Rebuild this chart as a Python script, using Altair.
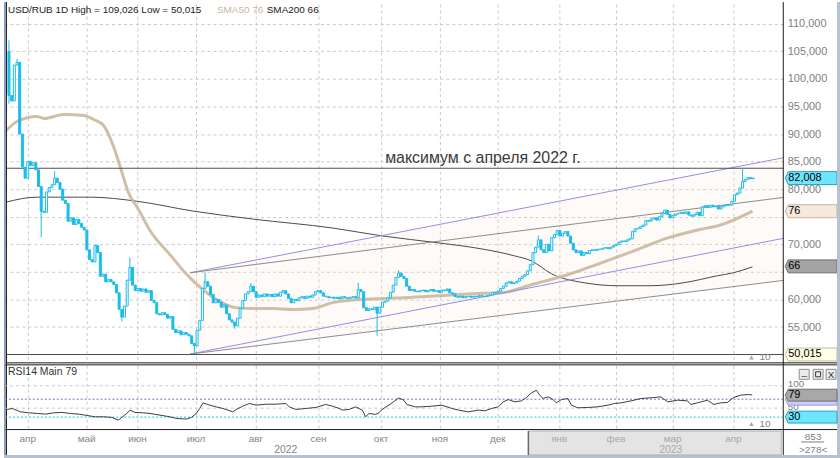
import altair as alt
import pandas as pd

FONT = "Liberation Sans"
CYAN = "#1BBCEA"
GRID = "#C9C9C9"
LABEL_GRAY = "#7F7F7F"
DARK = "#1A1A1A"

# ---------------- data ----------------
title_main = "USD/RUB 1D High = 109,026 Low = 50,015"
title_sma50 = "SMA50 76"
title_sma200 = "SMA200 66"
note_text = "максимум с апреля 2022 г."
note_bar = 140.0
note_price = 85.6

first_open = 105.0
closes = [
    97.0, 96.0, 102.5, 103.0, 90.0, 84.0, 82.0, 85.0, 84.3, 84.8,
    83.5, 80.5, 76.0, 75.8, 79.5, 80.3, 80.8, 82.0, 81.2, 80.0,
    78.0, 77.4, 74.2, 74.8, 73.6, 74.5, 73.8, 73.1, 72.6, 69.0,
    67.2, 66.8, 69.8, 68.5, 64.2, 64.6, 63.2, 63.6, 63.2, 62.7,
    61.2, 58.2, 56.8, 58.8, 63.5, 65.8, 62.6, 61.6, 62.0, 61.5,
    61.9, 61.3, 61.6, 59.8, 59.4, 57.4, 57.2, 57.6, 57.3, 56.6,
    56.9, 54.6, 54.0, 54.3, 53.6, 54.0, 53.7, 53.4, 52.0, 51.6,
    54.4, 56.2, 62.0, 63.2, 62.4, 60.9, 59.4, 60.0, 59.5, 58.6,
    59.0, 57.4, 56.3, 55.9, 55.2, 56.6, 58.4, 59.8, 61.0, 61.4,
    62.4, 61.4, 60.4, 60.8, 60.5, 61.0, 60.6, 60.9, 60.5, 61.0,
    60.6, 61.3, 61.6, 61.0, 60.2, 59.4, 60.0, 59.8, 60.3, 60.5,
    60.2, 60.6, 60.4, 60.8, 61.4, 61.6, 61.2, 60.6, 60.5, 60.3,
    60.4, 60.2, 60.4, 60.1, 60.5, 60.3, 60.2, 60.4, 60.5, 60.3,
    61.8, 61.4, 58.5, 58.0, 58.3, 58.2, 58.6, 57.5, 58.6, 59.5,
    59.7, 60.3, 61.3, 62.6, 64.0, 64.8, 64.2, 63.8, 62.4, 61.6,
    61.8, 61.5, 61.4, 61.6, 61.7, 61.4, 61.6, 61.8, 61.5, 61.6,
    61.3, 61.7, 61.6, 61.9, 61.2, 61.0, 60.5, 60.4, 60.6, 60.3,
    60.5, 60.6, 60.4, 60.6, 60.5, 60.7, 60.6, 60.5, 60.7, 60.8,
    61.3, 61.2, 61.5, 62.0, 62.4, 63.0, 63.2, 62.9, 63.0, 63.3,
    63.8, 64.2, 64.5, 65.2, 66.3, 68.5, 69.5, 70.8, 69.0, 68.5,
    70.0, 68.8, 71.2, 71.8, 72.5, 71.5, 72.0, 72.3, 71.5, 70.2,
    69.0, 68.5, 68.8, 68.0, 68.5, 68.3, 68.9, 69.0, 68.9, 69.1,
    69.1, 69.3, 69.4, 69.2, 69.5, 69.8, 70.0, 70.4, 70.6, 70.5,
    70.8, 71.0, 72.3, 72.8, 72.9, 73.2, 73.5, 74.3, 74.2, 74.6,
    74.8, 74.4, 75.0, 75.6, 76.2, 75.4, 74.8, 75.2, 75.5, 75.6,
    75.8, 75.6, 75.9, 75.3, 75.1, 75.4, 75.8, 75.2, 76.8, 77.0,
    76.7, 77.1, 76.8, 76.9, 76.4, 76.8, 77.0, 77.2, 77.1, 77.8,
    79.0, 79.3, 80.2, 81.4, 81.8, 82.1, 81.9, 82.008,
]
hi_bar = [0, 3, 17, 45, 73, 90, 130, 145, 197, 273]
hi_val = [107.0, 103.6, 83.3, 67.6, 64.9, 63.0, 63.0, 65.3, 71.6, 83.8]
lo_bar = [0, 12, 42, 69, 84, 137]
lo_val = [95.5, 71.3, 56.0, 50.015, 54.7, 53.4]

sma50_bar = [-1.1, 3.0, 10.4, 13.0, 20.4, 27.8, 31.5, 35.2, 38.9, 41.9,
             44.4, 48.1, 52.6, 60.0, 65.9, 72.2, 78.5, 84.4, 90.7, 98.1,
             105.6, 113.0, 120.4, 128.9, 137.8, 147.4, 160.0, 172.2, 183.3, 195.6,
             206.7, 220.4, 232.6, 245.2, 256.3, 264.8, 276.7]
sma50_val = [90.6, 92.27, 93.18, 92.82, 93.54, 93.36, 92.64, 91.55, 87.76, 83.25,
             79.46, 76.39, 72.42, 68.09, 64.66, 61.77, 59.60, 58.52, 58.34, 58.34,
             58.16, 58.34, 59.42, 59.96, 60.14, 60.32, 60.68, 61.05, 61.23, 62.85,
             64.30, 66.64, 68.81, 71.16, 72.60, 73.50, 76.03]

sma200_bar = [-1.1, 10.4, 30.4, 47.4, 68.5, 90.7, 120.4, 138.9, 160.0, 175.9,
              188.1, 194.4, 201.9, 214.0, 226.7, 238.9, 251.1, 263.7, 269.6, 276.7]
sma200_val = [77.65, 78.55, 78.55, 77.83, 76.03, 74.58, 72.96, 71.52, 70.25, 69.17,
              67.91, 67.0, 64.66, 63.03, 62.49, 62.49, 63.03, 64.30, 64.84, 65.92]

rsi_bar = [-1.1, -0.6, 1.2, 4.3, 7.4, 10.5, 13.6, 16.7, 19.7, 22.9,
           25.9, 29.0, 32.1, 35.2, 38.3, 40.7, 42.0, 43.8, 45.1, 46.9,
           50.0, 52.5, 56.2, 59.9, 62.3, 66.0, 67.9, 69.7, 71.0, 72.2,
           74.7, 77.1, 79.6, 83.3, 84.6, 87.0, 89.5, 92.0, 95.7, 99.4,
           103.1, 104.3, 106.8, 110.5, 114.2, 117.9, 120.4, 122.9, 124.1, 126.6,
           129.0, 131.5, 132.7, 134.0, 136.4, 137.7, 138.9, 142.6, 145.1, 146.9,
           148.1, 151.2, 153.7, 157.4, 161.1, 164.8, 167.3, 171.0, 174.7, 177.1,
           179.6, 182.1, 184.0, 185.8, 188.3, 190.7, 192.6, 194.4, 196.3, 197.5,
           198.8, 200.6, 202.5, 203.7, 205.6, 208.0, 209.3, 211.7, 215.4, 219.1,
           222.9, 225.3, 227.8, 231.5, 235.2, 240.1, 242.6, 245.1, 248.8, 252.5,
           253.7, 256.2, 259.9, 262.3, 264.8, 267.3, 269.7, 272.2, 274.7, 276.6]
rsi_val = [46.0, 47.1, 49.3, 41.8, 39.6, 38.1, 36.7, 39.6, 40.4, 38.1,
           36.7, 33.7, 30.7, 30.7, 29.3, 23.3, 29.3, 38.1, 45.6, 40.4,
           39.6, 38.1, 34.4, 30.7, 27.1, 25.6, 29.3, 38.1, 49.3, 61.8,
           56.7, 52.9, 49.3, 41.8, 47.1, 54.4, 60.4, 56.7, 58.9, 58.9,
           60.4, 52.9, 47.1, 49.3, 51.5, 58.2, 54.4, 49.3, 45.6, 47.1,
           52.9, 45.6, 30.7, 38.1, 36.0, 39.6, 47.1, 61.8, 72.9, 67.8,
           58.2, 52.9, 52.9, 54.4, 56.7, 49.3, 45.6, 41.8, 45.6, 44.1,
           49.3, 52.9, 64.1, 69.2, 64.1, 66.3, 73.7, 84.1, 90.0, 78.9,
           71.5, 75.2, 69.2, 61.8, 69.2, 71.5, 56.7, 50.8, 51.5, 52.9,
           56.7, 60.4, 61.8, 66.3, 71.5, 73.7, 75.2, 64.1, 67.8, 66.3,
           58.2, 61.8, 67.8, 58.2, 61.8, 62.7, 73.7, 78.9, 80.4, 79.6]

month_names = ["апр", "май", "июн", "июл", "авг", "сен", "окт", "ноя", "дек",
               "янв", "фев", "мар", "апр"]
month_bar = [7.0, 28.9, 47.8, 69.6, 91.9, 115.2, 138.5, 160.4, 181.9,
             204.8, 225.9, 247.0, 269.6]
year_names = ["2022", "2023"]
year_bar = [103.0, 246.3]
year_2023_start = 193.3

price_ticks = [55, 60, 65, 70, 75, 80, 85, 90, 95, 100, 105, 110]
hidden_price_labels = [65, 75]   # covered by the SMA tags in the reference
x_domain = [-1.11, 288.15]
price_domain = [48.59, 113.57]
rsi_domain = [3.3, 145.6]

chan_bar = [67.4, 288.15]
purple_upper = [64.84, 85.70]
purple_lower = [50.10, 71.08]
gray_upper = [64.84, 78.50]
gray_lower = [50.10, 63.45]

level_values = [83.79, 50.015]

tag_values = [82.008, 76.0, 66.0, 50.015]
tag_labels = ["82,008", "76", "66", "50,015"]
tag_fills = ["#6FE6FF", "#F4E9DC", "#A4A4A4", "#FFFFE4"]
tag_strokes = ["#2E9EC0", "#C7B39A", "#6E6E6E", "#BDBDA0"]

rsi_levels = [100, 70, 50, 30]
rsi_level_colors = ["#C9C9C9", "#7070D0", "#C9C9C9", "#12C4EE"]
rsi_level_dash = [[3, 3], [2, 2], [3, 3], [2, 2]]
rsi_tag_values = [70, 79, 30]
rsi_tag_labels = ["", "79", "30"]
rsi_tag_fills = ["#CCCCF8", "#A8A8A8", "#6FE6FF"]
rsi_tag_strokes = ["#9A9AE0", "#6E6E6E", "#2E9EC0"]

# ---------------- frames ----------------
opens = [first_open] + closes[:-1]
highs = [max(o, c) for o, c in zip(opens, closes)]
lows = [min(o, c) for o, c in zip(opens, closes)]
for b, v in zip(hi_bar, hi_val):
    highs[b] = v
for b, v in zip(lo_bar, lo_val):
    lows[b] = v
candles = pd.DataFrame({"bar": list(range(len(closes))), "open": opens,
                        "close": closes, "high": highs, "low": lows})
candles["x0"] = candles["bar"] - 0.37
candles["x1"] = candles["bar"] + 0.37
candles["up"] = candles["close"] >= candles["open"]

one = pd.DataFrame({"k": [0]})
xs = alt.Scale(domain=x_domain, nice=False, zero=False)
ys = alt.Scale(domain=price_domain, nice=False, zero=False)
rs = alt.Scale(domain=rsi_domain, nice=False, zero=False)

TAG_PATH = "M-1,0L-0.885,-0.25L1,-0.25L1,0.25L-0.885,0.25Z"
TAG_PATH_R = "M-1,0L-0.885,-0.23L1,-0.23L1,0.23L-0.885,0.23Z"

hide_expr = " || ".join(f"datum.value == {v}" for v in hidden_price_labels)
x_grid_axis = alt.Axis(values=month_bar, grid=True, gridDash=[3, 3], gridColor=GRID,
                       labels=False, ticks=False, domain=False, title=None)
y_main_axis = alt.Axis(
    orient="right", values=price_ticks, grid=True, gridDash=[3, 3], gridColor=GRID,
    ticks=False, domain=False, title=None, labelOverlap=False,
    labelExpr=f"({hide_expr}) ? '' : replace(format(datum.value, '.3f'), '.', ',')",
    labelColor=LABEL_GRAY, labelFontSize=11, labelFont=FONT, labelPadding=4)
y_rsi_axis = alt.Axis(
    orient="right", values=[100, 50], grid=False, ticks=False, domain=False, title=None,
    labelColor=LABEL_GRAY, labelFontSize=10, labelFont=FONT, labelPadding=4,
    labelOffset=-2, labelOverlap=False)


def X(f):
    return alt.X(f, type="quantitative", scale=xs, axis=x_grid_axis)


def Y(f):
    return alt.Y(f, type="quantitative", scale=ys, axis=y_main_axis)


def R(f):
    return alt.Y(f, type="quantitative", scale=rs, axis=y_rsi_axis)


def vtext(txt, x, y, size=11, color="#222222", align="left"):
    return alt.Chart(one).mark_text(align=align, baseline="middle", fontSize=size,
                                    font=FONT, color=color).encode(
        x=alt.value(x), y=alt.value(y), text=alt.value(txt))


def vrect(x, x2, y, y2, fill, stroke=None):
    kw = dict(fill=fill)
    if stroke:
        kw.update(stroke=stroke, strokeWidth=1)
    return alt.Chart(one).mark_rect(**kw).encode(
        x=alt.value(x), x2=alt.value(x2), y=alt.value(y), y2=alt.value(y2))


def vrule(x, x2, y, y2, color=DARK, width=1):
    return alt.Chart(one).mark_rule(color=color, strokeWidth=width).encode(
        x=alt.value(x), x2=alt.value(x2), y=alt.value(y), y2=alt.value(y2))


# ---------------- main panel ----------------
shade_df = pd.DataFrame({"bar": chan_bar, "top": purple_upper, "bottom": gray_lower})
shade = alt.Chart(shade_df).mark_area(color="#F3E6D6", opacity=0.2).encode(
    x=X("bar"), y=Y("top"), y2="bottom:Q")

sma200 = alt.Chart(pd.DataFrame({"bar": sma200_bar, "v": sma200_val})).mark_line(
    color="#4A4A4A", strokeWidth=1, interpolate="monotone").encode(x=X("bar"), y=Y("v"))
sma50 = alt.Chart(pd.DataFrame({"bar": sma50_bar, "v": sma50_val})).mark_line(
    color="#CBB79E", strokeWidth=3, interpolate="monotone", opacity=0.9).encode(
    x=X("bar"), y=Y("v"))

chan_rows = []
for name, vals in [("pu", purple_upper), ("pl", purple_lower), ("gu", gray_upper), ("gl", gray_lower)]:
    for b, v in zip(chan_bar, vals):
        chan_rows.append({"bar": b, "v": v, "line": name})
channels = alt.Chart(pd.DataFrame(chan_rows)).mark_line(strokeWidth=1).encode(
    x=X("bar"), y=Y("v"), detail="line:N",
    color=alt.Color("line:N", scale=alt.Scale(domain=["pu", "pl", "gu", "gl"],
                                              range=["#978BE6", "#978BE6", "#8C8C8C", "#8C8C8C"]),
                    legend=None))

levels = alt.Chart(pd.DataFrame({"v": level_values})).mark_rule(
    color="#505050", strokeWidth=1.2).encode(y=Y("v"))

wicks = alt.Chart(candles).mark_rule(color=CYAN, strokeWidth=1).encode(
    x=X("bar"), y=Y("low"), y2="high")
bodies_dn = alt.Chart(candles[~candles["up"]]).mark_rect(
    fill=CYAN, stroke=CYAN, strokeWidth=1).encode(x=X("x0"), x2="x1", y=Y("open"), y2="close")
bodies_up = alt.Chart(candles[candles["up"]]).mark_rect(
    fill="white", stroke=CYAN, strokeWidth=1).encode(x=X("x0"), x2="x1", y=Y("open"), y2="close")

note = alt.Chart(pd.DataFrame({"bar": [note_bar], "v": [note_price], "t": [note_text]})).mark_text(
    align="left", baseline="middle", fontSize=16, font=FONT, color="#3A3A3A").encode(
    x=X("bar"), y=Y("v"), text="t:N")

tags_df = pd.DataFrame({"v": tag_values, "label": tag_labels})
tags = alt.Chart(tags_df).mark_point(shape=TAG_PATH, filled=True, size=2704, opacity=1,
                                     strokeWidth=1).encode(
    x=alt.value(809), y=Y("v"),
    fill=alt.Fill("label:N", scale=alt.Scale(domain=tag_labels, range=tag_fills), legend=None),
    stroke=alt.Stroke("label:N", scale=alt.Scale(domain=tag_labels, range=tag_strokes), legend=None))
tag_text = alt.Chart(tags_df).mark_text(align="left", baseline="middle", fontSize=11,
                                        font=FONT, color="black").encode(
    x=alt.value(786), y=Y("v"), text="label:N")

tri_main = alt.Chart(one).mark_point(shape="triangle-up", filled=True, size=22, opacity=1,
                                     color="#A8A8A8").encode(x=alt.value(749), y=alt.value(355))

main = alt.layer(
    shade, sma200, sma50, channels, levels, wicks, bodies_dn, bodies_up, note,
    vtext(title_main, 2, 6, size=10), vtext(title_sma50, 212, 6, size=10, color="#C8B6A0"),
    vtext(title_sma200, 262, 6, size=10),
    tri_main, vtext("10", 757, 355, size=10, color=LABEL_GRAY),
    vrule(781, 781, -2, 453), vrule(0.5, 0.5, -2, 453),
    vrule(-0.5, 835, 360.5, 360.5),
    tags, tag_text,
    vrect(-2, 0, -2, 456, "#8C9CB3"),
    vrect(835, 838, -2, 456, "#B4C2D4"),
    vrect(-2, 838, 453, 456, "#B4C2D4"),
).properties(width=781, height=360)

# ---------------- RSI panel ----------------
rsi_layers = []
for lv, col, dash in zip(rsi_levels, rsi_level_colors, rsi_level_dash):
    rsi_layers.append(alt.Chart(pd.DataFrame({"v": [lv]})).mark_rule(
        color=col, strokeDash=dash, strokeWidth=1).encode(y=R("v")))

rsi_line = alt.Chart(pd.DataFrame({"bar": rsi_bar, "v": rsi_val})).mark_line(
    color="#3C3C3C", strokeWidth=1).encode(x=X("bar"), y=R("v"))

rtags_df = pd.DataFrame({"v": rsi_tag_values, "label": ["a", "b", "c"], "t": rsi_tag_labels})
rtags = alt.Chart(rtags_df).mark_point(shape=TAG_PATH_R, filled=True, size=2704, opacity=1,
                                       strokeWidth=1).encode(
    x=alt.value(809), y=R("v"),
    fill=alt.Fill("label:N", scale=alt.Scale(domain=["a", "b", "c"], range=rsi_tag_fills), legend=None),
    stroke=alt.Stroke("label:N", scale=alt.Scale(domain=["a", "b", "c"], range=rsi_tag_strokes), legend=None),
    order=alt.Order("label:N"))
rtag_text = alt.Chart(rtags_df).mark_text(align="left", baseline="middle", fontSize=11,
                                          font=FONT, color="black").encode(
    x=alt.value(786), y=R("v"), text="t:N")

months_df = pd.DataFrame({"bar": month_bar, "name": month_names})
months_df["late"] = months_df["bar"] >= year_2023_start
month_txt = alt.Chart(months_df).mark_text(baseline="middle", fontSize=10, font=FONT).encode(
    x=X("bar"), y=alt.value(74), text="name:N",
    color=alt.Color("late:N", scale=alt.Scale(domain=[False, True], range=["#858585", "#A9A9A9"]),
                    legend=None))
years_df = pd.DataFrame({"bar": year_bar, "name": year_names, "late": [False, True]})
year_txt = alt.Chart(years_df).mark_text(baseline="middle", fontSize=10.5, font=FONT).encode(
    x=X("bar"), y=alt.value(85.5), text="name:N",
    color=alt.Color("late:N", scale=alt.Scale(domain=[False, True], range=["#858585", "#A9A9A9"]),
                    legend=None))
box2023 = alt.Chart(pd.DataFrame({"bar": [year_2023_start]})).mark_rect(
    fill="#E4E4E4", stroke="#B4B4B4", strokeWidth=1).encode(
    x=X("bar"), x2=alt.value(779), y=alt.value(66), y2=alt.value(90))
box_edge = alt.Chart(pd.DataFrame({"bar": [year_2023_start]})).mark_rule(
    color="#6A6A6A", strokeWidth=1.5).encode(x=X("bar"), y=alt.value(66), y2=alt.value(90))

tri_rsi = alt.Chart(one).mark_point(shape="triangle-up", filled=True, size=22, opacity=1,
                                    color="#A8A8A8").encode(x=alt.value(749), y=alt.value(59))

rsi = alt.layer(
    *rsi_layers, rsi_line,
    vtext("RSI14 Main 79", 2, 7, size=10.5, color="#333333"),
    rtags, rtag_text,
    vrect(797, 807, 4, 14, "#ECECEC", "#8C8C8C"),
    vrect(811, 821, 4, 14, "#ECECEC", "#8C8C8C"),
    vrect(824, 834, 4, 14, "#ECECEC", "#8C8C8C"),
    vtext("_", 802, 7, size=10, color="#333333", align="center"),
    vrect(813.5, 818.5, 6.5, 11.5, "#ECECEC", "#333333"),
    vtext("X", 829, 9.5, size=10, color="#333333", align="center"),
    tri_rsi, vtext("10", 757, 59, size=10, color=LABEL_GRAY),
    box2023, box_edge, month_txt, year_txt,
    vtext("853", 811, 72, size=10, color=LABEL_GRAY, align="center"),
    vrule(799, 822, 77, 77, color=LABEL_GRAY),
    vtext(">278<", 811, 85, size=10, color=LABEL_GRAY, align="center"),
    vrule(-0.5, 835, -0.5, -0.5), vrule(-0.5, 835, 64.5, 64.5),
).properties(width=781, height=64)

chart = alt.vconcat(main, rsi, spacing=3, bounds="flush").resolve_scale(
    x="independent", y="independent", color="independent",
    fill="independent", stroke="independent"
).properties(padding=0, background="white").configure_view(stroke=None)

chart.save("out.html", embed_options={"renderer": "svg", "actions": False})
